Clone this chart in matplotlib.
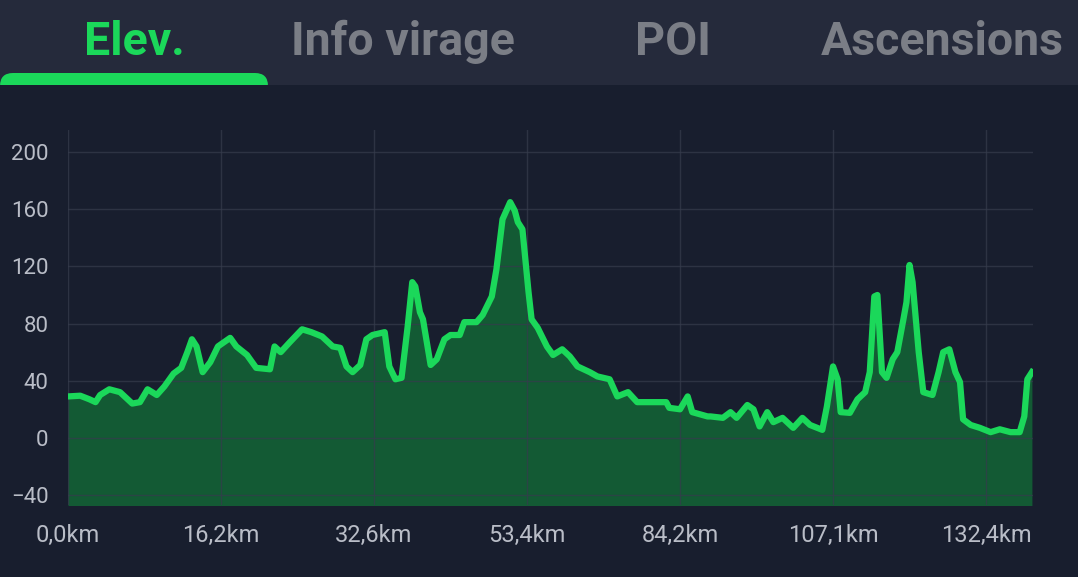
import matplotlib.pyplot as plt
from matplotlib.patches import Rectangle, FancyBboxPatch

# route position (tick spacing = 100) and elevation in m
track_pos = [0, 8, 14, 18, 21, 27, 34, 42, 47, 52, 58, 63, 69, 74, 78, 81, 84, 88,
             93, 98, 106, 110, 117, 123, 132, 135, 139, 145, 153, 159, 166, 173, 178,
             182, 186, 191, 195, 199, 207, 210, 214, 218, 222, 225, 227, 230, 232, 237,
             241, 246, 250, 256, 259, 267, 271, 277, 280, 284, 289, 292, 294, 297, 301,
             303, 307, 313, 317, 323, 328, 333, 341, 346, 354, 359, 366, 372, 380, 391,
             393, 400, 405, 408, 418, 420, 428, 433, 437, 444, 448, 452, 457, 461, 467,
             474, 480, 485, 493, 496, 500, 503, 505, 511, 516, 521, 524, 527, 529, 532,
             535, 539, 542, 546, 548, 550, 552, 556, 559, 565, 569, 572, 576, 580, 583,
             585, 590, 596, 603, 609, 616, 622, 625, 627, 630]
elevation = [29, 29.5, 27, 25, 30, 34, 32, 24, 25, 34, 30, 36, 45, 49, 60, 69, 64, 46,
             53, 64, 70, 64, 58, 49, 48, 64, 60, 67, 76, 74, 71, 64, 63,
             50, 46, 51, 69, 72, 74, 50, 41, 42, 78, 109, 106, 88, 83, 51,
             55, 69, 72, 72, 81, 81, 86, 99, 118, 153, 165, 159, 151, 146, 102,
             83, 77, 64, 58, 62, 57, 50, 46, 43, 41, 29, 32, 25, 25, 25,
             21, 20, 29, 18, 15, 15, 14, 18, 14, 23, 20, 8, 18, 11, 14,
             7, 14, 9, 5.6, 22, 50, 41, 18, 17.5, 27, 32, 46, 99, 100, 46,
             42, 55, 60, 83, 95, 121, 109, 60, 32, 30, 46, 60, 62, 46, 39,
             13, 9, 7, 4, 6, 4, 4, 15, 41, 46]

tick_pos = [0, 100, 200, 300, 400, 500, 600]
tick_labels = ['0,0km', '16,2km', '32,6km', '53,4km', '84,2km', '107,1km', '132,4km']
y_ticks = [-40, 0, 40, 80, 120, 160, 200]
tabs = ['Elev.', 'Info virage', 'POI', 'Ascensions']
tab_x = [134, 403, 673, 942]

bg = '#181e2e'
bar_bg = '#252a3b'
line_col = '#1bd85a'
fill_col = '#135a34'
grid_col = '#363c4d'
text_col = '#b9bdc7'

W, H = 1078, 577
fig = plt.figure(figsize=(W / 100, H / 100), dpi=100)
fig.patch.set_facecolor(bg)

# tab bar
fig.patches.append(Rectangle((0, (H - 85) / H), 1, 85 / H, transform=fig.transFigure,
                             facecolor=bar_bg, edgecolor='none', zorder=0))
fig.patches.append(FancyBboxPatch((0, (H - 97) / H), 268 / W, 24 / H,
                                  boxstyle='round,pad=0,rounding_size=0.012',
                                  transform=fig.transFigure, facecolor=line_col,
                                  edgecolor='none', zorder=1, mutation_aspect=W / H))
fig.patches.append(Rectangle((0, (H - 120) / H), 1, 35 / H, transform=fig.transFigure,
                             facecolor=bg, edgecolor='none', zorder=2))
for i, t in enumerate(tabs):
    fig.text(tab_x[i] / W, (H - 42) / H, t, ha='center', va='center', fontsize=33.5,
             fontweight='bold', family='Roboto',
             color=line_col if i == 0 else '#7b7e86')

ax = fig.add_axes([68 / W, 72 / H, 965 / W, 375 / H])
ax.set_facecolor(bg)
ax.fill_between(track_pos, elevation, -60, color=fill_col, lw=0, zorder=1)
ax.plot(track_pos, elevation, color=line_col, lw=4.5, solid_joinstyle='round', zorder=3)

ax.set_xlim(0, 630.7)
ax.set_ylim(-47, 215.5)
ax.set_xticks(tick_pos)
ax.set_xticklabels(tick_labels)
ax.set_yticks(y_ticks)
ax.grid(True, color=grid_col, lw=1, alpha=0.7, zorder=2)
ax.set_axisbelow(False)
for s in ax.spines.values():
    s.set_visible(False)
ax.tick_params(length=0, colors=text_col, labelsize=16)
ax.tick_params(axis='x', pad=14, labelsize=17)
ax.tick_params(axis='y', pad=14)
for lab in ax.get_xticklabels() + ax.get_yticklabels():
    lab.set_family('Roboto')

fig.savefig('out.png', dpi=100, facecolor=bg)
